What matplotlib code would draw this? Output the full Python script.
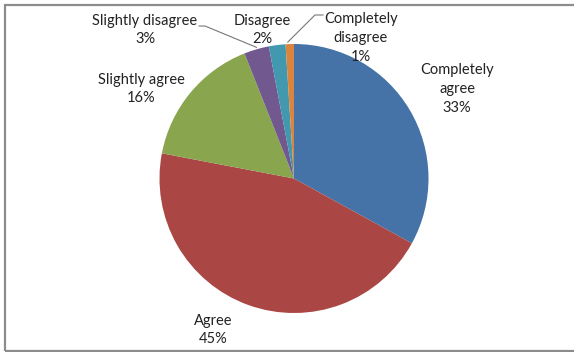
import numpy as np
import matplotlib.pyplot as plt
from matplotlib.patches import Rectangle

categories = ['Completely\nagree', 'Agree', 'Slightly agree', 'Slightly disagree',
              'Disagree', 'Completely\ndisagree']
shares = [33, 45, 16, 3, 2, 1]
colors = ['#4572A7', '#AA4643', '#89A54E', '#71588F', '#4198AF', '#DB843D']

# label anchors (pixels from top-left) and which labels get a leader line
label_pos = [(457, 89), (213, 330), (141, 89), (145, 30), (262, 30), (361, 38)]
leader = [False, False, False, True, False, True]

W, H = 574, 352
fig = plt.figure(figsize=(W / 100, H / 100), dpi=100)
ax = fig.add_axes([0, 0, 1, 1])

cx, cy, r = 294, H - 178.5, 134.5
wedges, _ = ax.pie(shares, colors=colors, startangle=90, counterclock=False,
                   center=(cx, cy), radius=r, frame=True,
                   wedgeprops=dict(linewidth=0))
ax.set_xlim(0, W)
ax.set_ylim(0, H)
ax.set_aspect('equal')
ax.axis('off')

for w, lab, val, (lx, ly), lead in zip(wedges, categories, shares, label_pos, leader):
    ax.text(lx, H - ly, f'{lab}\n{val}%', ha='center', va='center',
            fontsize=10.5, family='Lato', color='#222222', linespacing=1.45)
    if lead:
        mid = np.deg2rad((w.theta1 + w.theta2) / 2)
        ex, ey = cx + r * np.cos(mid), cy + r * np.sin(mid)
        if lx < cx:
            xs = [lx + 54, lx + 60, ex]
            ys = [H - 26, H - 26, ey + 2]
        else:
            xs = [lx - 38, lx - 46, ex - 2]
            ys = [H - 15, H - 15, ey + 2]
        ax.plot(xs, ys, color='#777777', lw=0.8)

# chart frame
fig.patches.append(Rectangle((4.5 / W, 1.5 / H), 1.2, (H - 6) / H,
                             transform=fig.transFigure, fill=False,
                             edgecolor='#8c8c8c', lw=1.6))

fig.savefig('out.png', dpi=100)
